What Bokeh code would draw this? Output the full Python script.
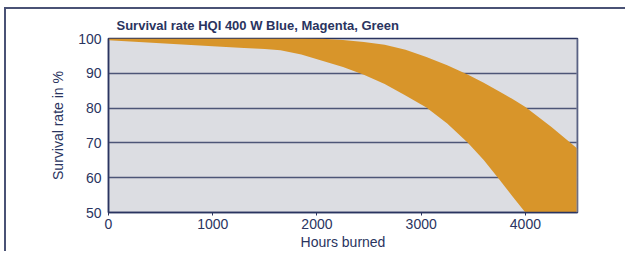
from bokeh.plotting import figure
from bokeh.embed import file_html
from bokeh.resources import INLINE
from bokeh.models import Span, FixedTicker

# Data
hours = [0, 500, 1000, 1300, 1500, 1650, 1850, 2050, 2250, 2450, 2650,
         2850, 3050, 3250, 3450, 3600, 3750, 3900, 4000, 4250, 4400, 4500]
upper = [100, 100, 100, 100, 100, 100, 100, 99.9, 99.6, 99.0, 98.2,
         96.8, 94.7, 92.3, 89.6, 87.3, 84.8, 82.2, 80.3, 74.6, 70.8, 68.3]
lower = [99.5, 98.6, 97.8, 97.3, 97.0, 96.6, 95.4, 93.6, 91.8, 89.6, 86.9,
         83.6, 80.2, 75.6, 70.0, 65.1, 59.5, 53.7, 50, 50, 50, 50]
x_ticks = [0, 1000, 2000, 3000, 4000]
y_ticks = [50, 60, 70, 80, 90, 100]
title_text = "Survival rate HQI 400 W Blue, Magenta, Green"
x_label = "Hours burned"
y_label = "Survival rate in %"

NAVY = "#2a3460"
GRID = "#4d5577"
ORANGE = "#d8952a"
BG = "#dcdde2"
FONT = "Liberation Sans"

p = figure(width=621, height=244, x_range=(0, 4500), y_range=(50, 100),
           output_backend="svg", toolbar_location=None,
           min_border_left=102, min_border_right=50,
           min_border_top=29, min_border_bottom=41)
p.styles = {"border-top": "2px solid #4a5275", "border-left": "2px solid #4a5275",
            "margin-left": "4px", "margin-top": "7px"}

p.title.text = title_text
p.title.align = "left"
p.title.vertical_align = "middle"
p.title.offset = 8
p.title.text_font = FONT
p.title.text_font_size = "13px"
p.title.text_font_style = "bold"
p.title.text_color = NAVY

p.background_fill_color = BG
p.border_fill_color = "white"
p.outline_line_color = NAVY
p.outline_line_width = 1.5

p.varea(x=hours, y1=lower, y2=upper, fill_color=ORANGE)

p.xgrid.visible = False
p.ygrid.ticker = FixedTicker(ticks=y_ticks)
p.ygrid.grid_line_color = GRID
p.ygrid.grid_line_width = 1.5

p.add_layout(Span(location=4500, dimension="height", line_color="#8a90a8", line_width=2))

for ax in (p.xaxis[0], p.yaxis[0]):
    ax.axis_line_color = NAVY
    ax.axis_line_width = 1.5
    ax.major_tick_line_color = NAVY
    ax.minor_tick_line_color = None
    ax.major_label_text_font = FONT
    ax.major_label_text_font_size = "14px"
    ax.major_label_text_color = NAVY
    ax.axis_label_text_font = FONT
    ax.axis_label_text_font_size = "14px"
    ax.axis_label_text_font_style = "normal"
    ax.axis_label_text_color = NAVY

p.xaxis.ticker = FixedTicker(ticks=x_ticks)
p.yaxis.ticker = FixedTicker(ticks=y_ticks)
p.xaxis.major_tick_in = 0
p.xaxis.major_tick_out = 3
p.xaxis.major_label_standoff = 3
p.xaxis.axis_label = x_label
p.xaxis.axis_label_standoff = 2
p.yaxis.major_tick_in = 0
p.yaxis.major_tick_out = 0
p.yaxis.major_label_standoff = 7
p.yaxis.axis_label = y_label
p.yaxis.axis_label_standoff = 9

open("out.html", "w").write(file_html(p, INLINE))
